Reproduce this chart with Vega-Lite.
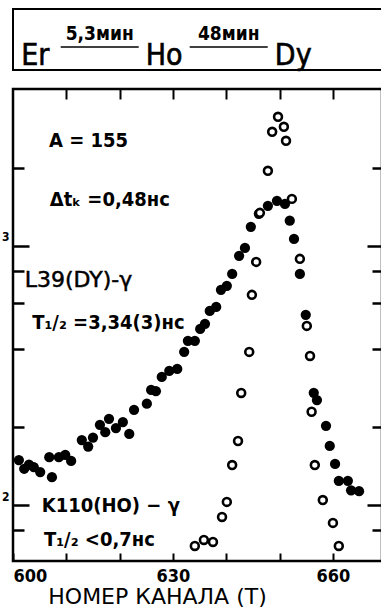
{
  "$schema": "https://vega.github.io/schema/vega-lite/v6.json",
  "padding": {"left": 0, "top": 8, "right": 0, "bottom": 0},
  "spacing": 14,
  "background": "white",
  "config": {
    "font": "DejaVu Sans Condensed",
    "view": {"stroke": "black", "strokeWidth": 2.5},
    "axis": {"domain": false, "grid": false, "tickColor": "black", "labelColor": "black", "titleColor": "black", "labelFont": "DejaVu Sans Condensed", "titleFont": "DejaVu Sans"}
  },
  "datasets": {
    "title": [
      {"token": "Er", "kind": "nuclide"},
      {"token": "5,3мин", "kind": "decay"},
      {"token": "Ho", "kind": "nuclide"},
      {"token": "48мин", "kind": "decay"},
      {"token": "Dy", "kind": "nuclide"}
    ],
    "counts": [
      {"series": "L39", "channel": 601.1, "counts": 149},
      {"series": "L39", "channel": 602.1, "counts": 138},
      {"series": "L39", "channel": 603.0, "counts": 143},
      {"series": "L39", "channel": 603.9, "counts": 140},
      {"series": "L39", "channel": 605.1, "counts": 134},
      {"series": "L39", "channel": 606.8, "counts": 153},
      {"series": "L39", "channel": 607.3, "counts": 128},
      {"series": "L39", "channel": 608.6, "counts": 153},
      {"series": "L39", "channel": 609.8, "counts": 156},
      {"series": "L39", "channel": 610.9, "counts": 148},
      {"series": "L39", "channel": 612.9, "counts": 178},
      {"series": "L39", "channel": 614.1, "counts": 168},
      {"series": "L39", "channel": 615.0, "counts": 182},
      {"series": "L39", "channel": 616.3, "counts": 204},
      {"series": "L39", "channel": 617.3, "counts": 191},
      {"series": "L39", "channel": 618.0, "counts": 215},
      {"series": "L39", "channel": 619.3, "counts": 198},
      {"series": "L39", "channel": 620.6, "counts": 209},
      {"series": "L39", "channel": 621.8, "counts": 188},
      {"series": "L39", "channel": 622.7, "counts": 233},
      {"series": "L39", "channel": 625.1, "counts": 246},
      {"series": "L39", "channel": 625.9, "counts": 278},
      {"series": "L39", "channel": 626.8, "counts": 275},
      {"series": "L39", "channel": 627.9, "counts": 312},
      {"series": "L39", "channel": 629.3, "counts": 329},
      {"series": "L39", "channel": 630.8, "counts": 335},
      {"series": "L39", "channel": 632.1, "counts": 390},
      {"series": "L39", "channel": 632.8, "counts": 430},
      {"series": "L39", "channel": 634.1, "counts": 430},
      {"series": "L39", "channel": 635.1, "counts": 478},
      {"series": "L39", "channel": 636.0, "counts": 500},
      {"series": "L39", "channel": 636.9, "counts": 561},
      {"series": "L39", "channel": 638.1, "counts": 581},
      {"series": "L39", "channel": 639.0, "counts": 677},
      {"series": "L39", "channel": 640.1, "counts": 701},
      {"series": "L39", "channel": 641.1, "counts": 779},
      {"series": "L39", "channel": 642.4, "counts": 915},
      {"series": "L39", "channel": 643.5, "counts": 982},
      {"series": "L39", "channel": 644.6, "counts": 1184},
      {"series": "L39", "channel": 646.1, "counts": 1329},
      {"series": "L39", "channel": 647.8, "counts": 1427},
      {"series": "L39", "channel": 649.5, "counts": 1492},
      {"series": "L39", "channel": 651.0, "counts": 1452},
      {"series": "L39", "channel": 651.9, "counts": 1250},
      {"series": "L39", "channel": 652.7, "counts": 1064},
      {"series": "L39", "channel": 653.8, "counts": 779},
      {"series": "L39", "channel": 654.9, "counts": 542},
      {"series": "L39", "channel": 656.4, "counts": 271},
      {"series": "L39", "channel": 657.0, "counts": 254},
      {"series": "L39", "channel": 658.7, "counts": 202},
      {"series": "L39", "channel": 659.4, "counts": 169},
      {"series": "L39", "channel": 660.4, "counts": 144},
      {"series": "L39", "channel": 661.1, "counts": 124},
      {"series": "L39", "channel": 662.8, "counts": 124},
      {"series": "L39", "channel": 663.4, "counts": 114},
      {"series": "L39", "channel": 664.9, "counts": 113},
      {"series": "K110", "channel": 634.1, "counts": 69.5},
      {"series": "K110", "channel": 635.8, "counts": 73.3},
      {"series": "K110", "channel": 637.5, "counts": 72.0},
      {"series": "K110", "channel": 639.2, "counts": 89.9},
      {"series": "K110", "channel": 640.1, "counts": 102.8},
      {"series": "K110", "channel": 641.1, "counts": 142.6},
      {"series": "K110", "channel": 642.2, "counts": 176.6},
      {"series": "K110", "channel": 642.8, "counts": 270.6},
      {"series": "K110", "channel": 644.3, "counts": 389.8},
      {"series": "K110", "channel": 644.8, "counts": 647},
      {"series": "K110", "channel": 645.6, "counts": 867},
      {"series": "K110", "channel": 646.3, "counts": 1341},
      {"series": "K110", "channel": 647.8, "counts": 1948},
      {"series": "K110", "channel": 648.6, "counts": 2755},
      {"series": "K110", "channel": 649.7, "counts": 3148},
      {"series": "K110", "channel": 650.8, "counts": 2880},
      {"series": "K110", "channel": 651.2, "counts": 2543},
      {"series": "K110", "channel": 652.3, "counts": 1518},
      {"series": "K110", "channel": 653.8, "counts": 891},
      {"series": "K110", "channel": 655.1, "counts": 491},
      {"series": "K110", "channel": 655.7, "counts": 376},
      {"series": "K110", "channel": 656.0, "counts": 229},
      {"series": "K110", "channel": 656.6, "counts": 142.6},
      {"series": "K110", "channel": 658.1, "counts": 104.5},
      {"series": "K110", "channel": 660.0, "counts": 85.3},
      {"series": "K110", "channel": 661.1, "counts": 69.5}
    ],
    "notes": [
      {"text": "A = 155", "channel": 606.75, "counts": 2410},
      {"text": "Δtₖ =0,48нс", "channel": 606.9, "counts": 1427},
      {"text": "L39(DY)-γ", "channel": 602.2, "counts": 695},
      {"text": "T₁/₂ =3,34(3)нс", "channel": 603.6, "counts": 478},
      {"text": "K110(HO) − γ", "channel": 605.4, "counts": 94},
      {"text": "T₁/₂ <0,7нс", "channel": 605.8, "counts": 69.5}
    ]
  },
  "vconcat": [
    {
      "width": 369,
      "height": 61,
      "view": {"stroke": "black", "strokeWidth": 2},
      "data": {"name": "title"},
      "encoding": {
        "x": {"field": "token", "type": "nominal", "sort": null, "scale": {"type": "point", "domain": ["Er", "5,3мин", "Ho", "48мин", "Dy"], "padding": 0.86, "align": 0.2}, "axis": null},
        "y": {"field": "kind", "type": "nominal", "scale": {"type": "point", "domain": ["decay", "nuclide"], "padding": 0.72, "align": 0.86}, "axis": null}
      },
      "layer": [
        {
          "transform": [{"filter": "datum.kind == 'nuclide'"}],
          "mark": {"type": "text", "font": "DejaVu Sans Condensed", "fontSize": 30, "baseline": "alphabetic", "color": "black", "stroke": "black", "strokeWidth": 0.6},
          "encoding": {"text": {"field": "token"}}
        },
        {
          "transform": [{"filter": "datum.kind == 'decay'"}],
          "mark": {"type": "text", "font": "DejaVu Sans Condensed", "fontSize": 19, "fontWeight": "bold", "baseline": "alphabetic", "color": "black"},
          "encoding": {"text": {"field": "token"}}
        },
        {
          "transform": [{"filter": "datum.kind == 'decay'"}],
          "mark": {"type": "tick", "orient": "horizontal", "size": 78, "thickness": 1.6, "yOffset": 7, "color": "black", "opacity": 1}
        }
      ]
    },
    {
      "width": 369,
      "height": 472,
      "layer": [
        {
          "data": {"name": "counts"},
          "transform": [{"filter": "datum.series == 'L39'"}],
          "mark": {"type": "point", "filled": true, "color": "black", "size": 105, "opacity": 1},
          "encoding": {
            "x": {"field": "channel", "type": "quantitative", "scale": {"domain": [600, 669.2], "nice": false, "zero": false},
              "axis": {"orient": "bottom", "values": [600, 610, 620, 630, 640, 650, 660], "labelExpr": "datum.value % 30 == 0 ? datum.label : ''", "tickSize": -8, "tickWidth": 2, "labelPadding": 14, "labelFontSize": 18, "labelFontWeight": "bold", "labelFlush": true, "labelOverlap": false, "title": "НОМЕР КАНАЛА (Т)", "titleFontSize": 22, "titleFontWeight": "normal", "titleX": 144, "titlePadding": 1, "titleAlign": "center"}},
            "y": {"field": "counts", "type": "quantitative", "scale": {"type": "log", "domain": [60.8, 4030], "nice": false},
              "axis": {"orient": "left", "values": [80, 100, 200, 400, 600, 800, 1000, 2000], "tickSize": {"condition": {"test": "datum.value == 100 || datum.value == 1000", "value": -16}, "value": -11}, "tickWidth": 2.5, "labelExpr": "datum.value == 1000 ? '3' : datum.value == 100 ? '2' : ''", "labelPadding": 20, "labelOffset": -9, "labelFontSize": 12, "labelFontWeight": "bold", "labelOverlap": false, "title": null}}
          }
        },
        {
          "data": {"name": "counts"},
          "transform": [{"filter": "datum.series == 'K110'"}],
          "mark": {"type": "point", "filled": false, "stroke": "black", "fill": "white", "fillOpacity": 1, "size": 62, "strokeWidth": 2.6, "opacity": 1},
          "encoding": {
            "x": {"field": "channel", "type": "quantitative", "axis": {"orient": "top", "values": [610, 620, 630, 640, 650, 660], "tickSize": -10, "tickWidth": 2, "labels": false, "title": null}},
            "y": {"field": "counts", "type": "quantitative", "axis": {"orient": "right", "values": [80, 100, 200, 400, 600, 800, 1000, 2000], "tickSize": {"condition": {"test": "datum.value == 100 || datum.value == 1000", "value": -15}, "value": -10}, "tickWidth": 2.5, "labels": false, "title": null}}
          }
        },
        {
          "data": {"name": "notes"},
          "transform": [{"filter": "datum.text != 'L39(DY)-γ'"}],
          "mark": {"type": "text", "align": "left", "baseline": "alphabetic", "font": "DejaVu Sans Condensed", "fontSize": 20, "fontWeight": "bold", "color": "black"},
          "encoding": {
            "x": {"field": "channel", "type": "quantitative", "axis": null},
            "y": {"field": "counts", "type": "quantitative", "axis": null},
            "text": {"field": "text"}
          }
        },
        {
          "data": {"name": "notes"},
          "transform": [{"filter": "datum.text == 'L39(DY)-γ'"}],
          "mark": {"type": "text", "align": "left", "baseline": "alphabetic", "font": "DejaVu Sans", "fontSize": 22, "fontWeight": "normal", "color": "black", "stroke": "black", "strokeWidth": 0.5},
          "encoding": {
            "x": {"field": "channel", "type": "quantitative", "axis": null},
            "y": {"field": "counts", "type": "quantitative", "axis": null},
            "text": {"field": "text"}
          }
        }
      ],
      "resolve": {"axis": {"x": "independent", "y": "independent"}}
    }
  ]
}
